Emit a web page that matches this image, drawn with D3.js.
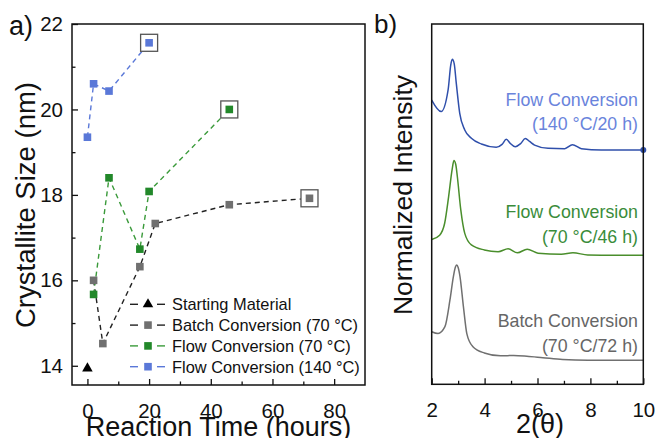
<!DOCTYPE html>
<html>
<head>
<meta charset="utf-8">
<script src="https://cdn.jsdelivr.net/npm/d3@7"></script>
<style>
  body { margin: 0; background: #fff; }
  svg { display: block; font-family: "Liberation Sans", Arial, sans-serif; }
</style>
</head>
<body>
<svg id="fig" width="657" height="438"></svg>
<script>
// ---- panel a data: crystallite size vs reaction time ----
var startTime = [0], startSize = [13.95];
var batchTime = [2, 5, 17, 22, 46, 72];
var batchSize = [16.0, 14.52, 16.32, 17.33, 17.77, 17.92];
var flow70Time = [2, 7, 17, 20, 46];
var flow70Size = [15.67, 18.4, 16.73, 18.08, 20.0];
var flow140Time = [0, 2, 7, 20];
var flow140Size = [19.35, 20.6, 20.43, 21.56];
var legendNames = ["Starting Material", "Batch Conversion (70 °C)", "Flow Conversion (70 °C)", "Flow Conversion (140 °C)"];
var xTicksA = [0, 20, 40, 60, 80];
var yTicksA = [14, 16, 18, 20, 22];

// ---- panel b data: XRD patterns (2theta, normalized intensity + offset) ----
var flow140Theta = [2.0, 2.36, 2.62, 2.72, 2.78, 2.85, 2.93, 3.06, 3.25, 3.5, 3.88, 4.44, 4.66, 4.82, 4.98, 5.16, 5.36, 5.54, 5.7, 5.89, 6.4, 7.03, 7.32, 7.66, 8.41, 9.42, 10.0];
var flow140Int = [78.9, 75.7, 81.7, 88.6, 90.2, 89.0, 83.5, 75.2, 70.6, 68.3, 66.7, 65.8, 66.6, 68.0, 66.8, 65.9, 66.8, 68.2, 67.4, 66.4, 65.5, 65.4, 66.5, 65.4, 65.0, 65.0, 65.0];
var flow70Theta = [2.0, 2.3, 2.49, 2.64, 2.77, 2.84, 2.91, 2.97, 3.1, 3.25, 3.5, 3.99, 4.51, 4.89, 5.24, 5.61, 6.02, 6.9, 7.34, 7.9, 8.92, 10.0];
var flow70Int = [40.2, 41.4, 44.7, 52.1, 59.5, 62.1, 61.0, 57.6, 48.4, 41.9, 38.7, 37.3, 36.8, 37.6, 36.5, 37.5, 36.4, 36.1, 36.5, 35.9, 35.8, 35.8];
var batchTheta = [2.0, 2.24, 2.5, 2.69, 2.82, 2.9, 2.95, 3.0, 3.07, 3.2, 3.33, 3.55, 3.99, 4.6, 5.1, 5.6, 6.2, 6.95, 7.9, 10.0];
var batchInt = [14.6, 14.1, 16.0, 23.4, 29.9, 32.6, 33.1, 32.4, 29.9, 21.5, 14.0, 10.5, 8.7, 7.9, 8.0, 7.8, 7.4, 6.9, 6.7, 6.7];
var xTicksB = [2, 4, 6, 8, 10];

var blue = "#5a78d8", blueLine = "#2f4fab", green = "#22882a", greenLine = "#4a8e2c", gray = "#707070";

var svg = d3.select("#fig");

// ================= panel a =================
var ax = {left: 72, right: 365, top: 24, bottom: 385};
var xA = d3.scaleLinear().domain([-5, 90]).range([ax.left, ax.right]);
var yA = d3.scaleLinear().domain([13.55, 22]).range([ax.bottom, ax.top]);

var gA = svg.append("g");

gA.append("g")
  .attr("transform", "translate(0," + ax.bottom + ")")
  .call(d3.axisBottom(xA).tickValues([10, 30, 50, 70]).tickSizeInner(-3.5).tickSizeOuter(0).tickFormat(""))
  .call(g => g.select(".domain").remove());
gA.append("g")
  .attr("transform", "translate(0," + ax.bottom + ")")
  .call(d3.axisBottom(xA).tickValues(xTicksA).tickSizeInner(-6).tickSizeOuter(0).tickPadding(18.5))
  .call(g => g.select(".domain").remove())
  .selectAll("text").attr("font-size", 20.5).attr("fill", "#111").attr("font-family", null);
gA.append("g")
  .attr("transform", "translate(0," + ax.bottom + ")");
gA.append("g")
  .attr("transform", "translate(" + ax.left + ",0)")
  .call(d3.axisLeft(yA).tickValues([15, 17, 19, 21]).tickSizeInner(-3.5).tickSizeOuter(0).tickFormat(""))
  .call(g => g.select(".domain").remove());
gA.append("g")
  .attr("transform", "translate(" + ax.left + ",0)")
  .call(d3.axisLeft(yA).tickValues(yTicksA).tickSizeInner(-6).tickSizeOuter(0).tickPadding(9))
  .call(g => g.select(".domain").remove())
  .selectAll("text").attr("font-size", 20.5).attr("fill", "#111").attr("font-family", null);
gA.selectAll(".tick line").attr("stroke", "#111").attr("stroke-width", 1.3);

gA.append("rect")
  .attr("x", ax.left).attr("y", ax.top)
  .attr("width", ax.right - ax.left).attr("height", ax.bottom - ax.top)
  .attr("fill", "none").attr("stroke", "#111").attr("stroke-width", 1.5);

function series(t, v) { return t.map(function(d, i) { return [d, v[i]]; }); }
var lineA = d3.line().x(d => xA(d[0])).y(d => yA(d[1]));

var setsA = [
  {pts: series(batchTime, batchSize), line: "#222", fill: gray},
  {pts: series(flow70Time, flow70Size), line: "#3a9a3a", fill: green},
  {pts: series(flow140Time, flow140Size), line: blue, fill: blue}
];
setsA.forEach(function(s) {
  gA.append("path").datum(s.pts)
    .attr("d", lineA).attr("fill", "none")
    .attr("stroke", s.line).attr("stroke-width", 1.4).attr("stroke-dasharray", "5,4");
});
setsA.forEach(function(s) {
  var last = s.pts[s.pts.length - 1];
  gA.append("rect")
    .attr("x", xA(last[0]) - 8.5).attr("y", yA(last[1]) - 8.5)
    .attr("width", 17).attr("height", 17)
    .attr("fill", "#fff").attr("stroke", "#555").attr("stroke-width", 1.3);
  gA.selectAll(null).data(s.pts).enter().append("rect")
    .attr("x", d => xA(d[0]) - 3.8).attr("y", d => yA(d[1]) - 3.8)
    .attr("width", 7.6).attr("height", 7.6)
    .attr("fill", s.fill);
});
var tri = d3.symbol().type(d3.symbolTriangle).size(48);
gA.selectAll(null).data(series(startTime, startSize)).enter().append("path")
  .attr("d", tri)
  .attr("transform", d => "translate(" + xA(d[0]) + "," + (yA(d[1]) + 0.5) + ")")
  .attr("fill", "#000");

// legend
var legColors = [{line: "#222", fill: "#000"}, {line: "#222", fill: gray}, {line: "#3a9a3a", fill: green}, {line: blue, fill: blue}];
var leg = gA.append("g").attr("transform", "translate(130,304.3)");
legendNames.forEach(function(name, i) {
  var row = leg.append("g").attr("transform", "translate(0," + (i * 20.8) + ")");
  row.append("line").attr("x1", 0).attr("x2", 8).attr("stroke", legColors[i].line).attr("stroke-width", 1.4);
  row.append("line").attr("x1", 27).attr("x2", 35).attr("stroke", legColors[i].line).attr("stroke-width", 1.4);
  if (i === 0) {
    row.append("path").attr("d", tri).attr("transform", "translate(18,0)").attr("fill", "#000");
  } else {
    row.append("rect").attr("x", 14.2).attr("y", -3.8).attr("width", 7.6).attr("height", 7.6).attr("fill", legColors[i].fill);
  }
  row.append("text").attr("x", 42).attr("y", 5.8).attr("font-size", 16.4).attr("fill", "#111").text(name);
});

gA.append("text").attr("x", 9).attr("y", 35).attr("font-size", 27).attr("fill", "#111").text("a)");
gA.append("text")
  .attr("transform", "translate(35,205) rotate(-90)")
  .attr("text-anchor", "middle").attr("font-size", 27.5).attr("fill", "#111")
  .text("Crystallite Size (nm)");
gA.append("text")
  .attr("x", (ax.left + ax.right) / 2).attr("y", 436)
  .attr("text-anchor", "middle").attr("font-size", 27).attr("fill", "#111")
  .text("Reaction Time (hours)");

// ================= panel b =================
var bx = {left: 431.7, right: 643.3, top: 24, bottom: 384.3};
var xB = d3.scaleLinear().domain([2, 10]).range([bx.left, bx.right]);
var yB = d3.scaleLinear().domain([0, 100]).range([bx.bottom, bx.top]);
var gB = svg.append("g");

gB.append("g")
  .attr("transform", "translate(0," + bx.bottom + ")")
  .call(d3.axisBottom(xB).tickValues([3, 5, 7, 9]).tickSizeInner(-3.5).tickSizeOuter(0).tickFormat(""))
  .call(g => g.select(".domain").remove());
gB.append("g")
  .attr("transform", "translate(0," + bx.bottom + ")")
  .call(d3.axisBottom(xB).tickValues(xTicksB).tickSizeInner(-6).tickSizeOuter(0).tickPadding(18.5))
  .call(g => g.select(".domain").remove())
  .selectAll("text").attr("font-size", 20.5).attr("fill", "#111").attr("font-family", null);
gB.selectAll(".tick line").attr("stroke", "#111").attr("stroke-width", 1.3);

var lineB = d3.line().x(d => xB(d[0])).y(d => yB(d[1])).curve(d3.curveMonotoneX);
var setsB = [
  {pts: series(flow140Theta, flow140Int), color: blueLine},
  {pts: series(flow70Theta, flow70Int), color: greenLine},
  {pts: series(batchTheta, batchInt), color: gray}
];
setsB.forEach(function(s) {
  gB.append("path").datum(s.pts)
    .attr("d", lineB).attr("fill", "none")
    .attr("stroke", s.color).attr("stroke-width", 1.5);
});
var endPt = setsB[0].pts[setsB[0].pts.length - 1];
gB.append("circle").attr("cx", xB(endPt[0])).attr("cy", yB(endPt[1])).attr("r", 3).attr("fill", blueLine);

gB.append("rect")
  .attr("x", bx.left).attr("y", bx.top)
  .attr("width", bx.right - bx.left).attr("height", bx.bottom - bx.top)
  .attr("fill", "none").attr("stroke", "#111").attr("stroke-width", 1.5);

var labelsB = [
  {lines: ["Flow Conversion", "(140 °C/20 h)"], color: "#6a84dc", y: 105.7},
  {lines: ["Flow Conversion", "(70 °C/46 h)"], color: "#3a8c3a", y: 218.3},
  {lines: ["Batch Conversion", "(70 °C/72 h)"], color: "#666", y: 327.3}
];
labelsB.forEach(function(l) {
  l.lines.forEach(function(t, j) {
    gB.append("text").attr("x", 638).attr("y", l.y + j * 24.3)
      .attr("text-anchor", "end").attr("font-size", 17.8).attr("fill", l.color).text(t);
  });
});

gB.append("text").attr("x", 374).attr("y", 33).attr("font-size", 26).attr("fill", "#111").text("b)");
gB.append("text")
  .attr("transform", "translate(412,195) rotate(-90)")
  .attr("text-anchor", "middle").attr("font-size", 26.5).attr("fill", "#111")
  .text("Normalized Intensity");
gB.append("text")
  .attr("x", 540).attr("y", 433)
  .attr("text-anchor", "middle").attr("font-size", 27).attr("fill", "#111")
  .text("2(θ)");
</script>
</body>
</html>
